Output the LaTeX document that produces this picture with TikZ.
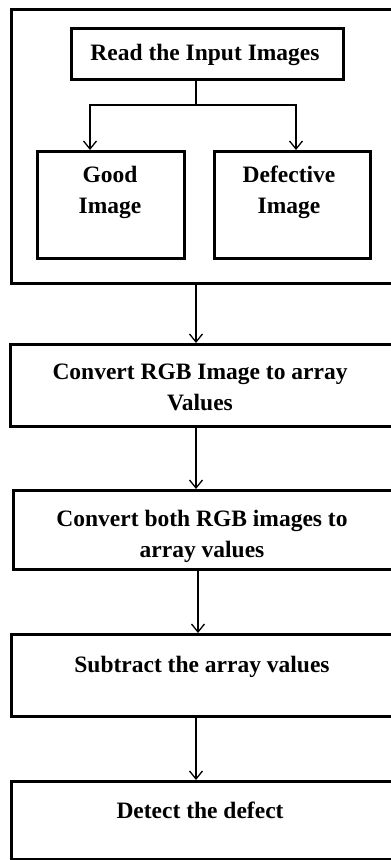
\documentclass[tikz,border=0pt]{standalone}
\usepackage{fontspec}
\setmainfont{Liberation Serif}
\usetikzlibrary{arrows.meta,calc}

\begin{document}
\begin{tikzpicture}[x=1pt,y=-1pt,
  frame/.style={draw=black,line width=3.4pt,inner sep=0pt,anchor=north west},
  lbl/.style={font=\bfseries\fontsize{23.5}{31}\selectfont,align=center,inner sep=0pt,anchor=base},
  link/.style={draw=black,line width=1.3pt,-{Straight Barb[length=8pt,width=13pt,line width=1.3pt]}}]
  \useasboundingbox (0,0) rectangle (391,860);
  \fill[white] (0,0) rectangle (391,860);
  \clip (0,0) rectangle (391,860);

  % reference columns for the vertical connectors
  \coordinate (axis) at (196,0);
  \coordinate (axisB) at (198,0);
  \coordinate (colL) at (90,0);
  \coordinate (colR) at (296,0);
  \coordinate (split) at (196,105);

  % input stage: outer frame with its three boxes
  \node[frame,minimum width=392pt,minimum height=274pt] (outer) at (10,8) {};
  \node[frame,minimum width=272pt,minimum height=51pt] (read) at (70,27) {};
  \node[lbl] (readtxt) at (205,60) {Read the Input Images};
  \node[frame,minimum width=147pt,minimum height=107pt] (good) at (36,150) {};
  \node[lbl] (goodtxt) at (110,213) {Good\\Image};
  \node[frame,minimum width=156pt,minimum height=107pt] (defect) at (213,150) {};
  \node[lbl] (defecttxt) at (289,213) {Defective\\Image};

  % processing steps
  \node[frame,minimum width=390pt,minimum height=82pt] (conv1) at (9,343) {};
  \node[lbl] (conv1txt) at (200,410) {Convert RGB Image to array\\Values};
  \node[frame,minimum width=388pt,minimum height=79pt] (conv2) at (12,489) {};
  \node[lbl] (conv2txt) at (202,557) {Convert both RGB images to\\array values};
  \node[frame,minimum width=390pt,minimum height=82pt] (sub) at (10,633) {};
  \node[lbl] (subtxt) at (202,672) {Subtract the array values};
  \node[frame,minimum width=390pt,minimum height=78pt] (detect) at (10,780) {};
  \node[lbl] (detecttxt) at (200,818) {Detect the defect};

  % connectors
  \draw[line width=1.3pt] (read.south -| axis) -- (split);
  \draw[link] (split) -| (good.north -| colL);
  \draw[link] (split) -| (defect.north -| colR);
  \draw[link] (outer.south -| axis) -- (conv1.north -| axis);
  \draw[link] (conv1.south -| axis) -- (conv2.north -| axis);
  \draw[link] (conv2.south -| axisB) -- (sub.north -| axisB);
  \draw[link] (sub.south -| axis) -- (detect.north -| axis);
\end{tikzpicture}
\end{document}
